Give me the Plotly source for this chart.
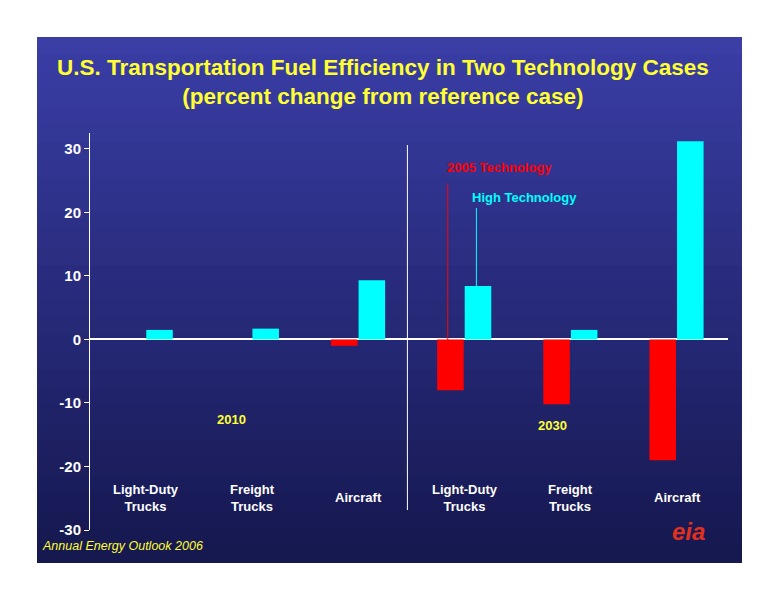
import plotly.graph_objects as go

categories = ["Light-Duty<br>Trucks", "Freight<br>Trucks", "Aircraft",
              "Light-Duty<br>Trucks", "Freight<br>Trucks", "Aircraft"]
tech2005 = [0, 0, -1.0, -8.0, -10.2, -19.0]
high_tech = [1.5, 1.7, 9.3, 8.4, 1.5, 31.2]
yticks = [-30, -20, -10, 0, 10, 20, 30]
yticklabels = ["-30", "-20", "-10", "0", "10", "20", "30"]

O = 8  # page body margin
W, H = 776 - 2 * O, 600 - 2 * O
L, R, T, B = 90 - O, 776 - 728 - O, 133 - O, 600 - 530 - O
pw, ph = W - L - R, H - T - B
def px(x): return (x - O - L) / pw
def py(y): return (H - B - (y - O)) / ph

xs = list(range(len(categories)))
fig = go.Figure()
fig.add_trace(go.Bar(x=[x - 0.135 for x in xs], y=tech2005, width=0.25,
                     marker=dict(color="#ff0000", line_width=0), name="2005 Technology"))
fig.add_trace(go.Bar(x=[x + 0.125 for x in xs], y=high_tech, width=0.25,
                     marker=dict(color="#00ffff", line_width=0), name="High Technology"))

shapes = []
n = 30
top = (58, 62, 165); bot = (22, 24, 80)
for i in range(n):
    f = i / (n - 1)
    c = tuple(int(top[k] + (bot[k] - top[k]) * f) for k in range(3))
    y0 = 37 + (563 - 37) * i / n
    y1 = 37 + (563 - 37) * (i + 1) / n + 1
    shapes.append(dict(type="rect", xref="paper", yref="paper", layer="below",
                       x0=px(37), x1=px(742), y0=py(min(y1, 563)), y1=py(y0),
                       fillcolor="rgb(%d,%d,%d)" % c, line_width=0))
shapes.append(dict(type="line", xref="x", yref="paper", x0=2.46, x1=2.46,
                   y0=py(510), y1=py(145), line=dict(color="white", width=1)))
shapes.append(dict(type="line", xref="x", yref="y", x0=3 - 0.16, x1=3 - 0.16,
                   y0=-0.5, y1=24.5, line=dict(color="#ff0000", width=1)))
shapes.append(dict(type="line", xref="x", yref="y", x0=3 + 0.11, x1=3 + 0.11,
                   y0=8.4, y1=20.7, line=dict(color="#00ffff", width=1)))

ann = [
    dict(x=px(55), y=py(53), xref="paper", yref="paper", showarrow=False, xanchor="left",
         align="center",
         text="<b>U.S. Transportation Fuel Efficiency in Two Technology Cases<br>(percent change from reference case)</b>",
         font=dict(size=22.5, color="#ffff33", family="Liberation Sans, Arial")),
    dict(x=3.33, y=27, xref="x", yref="y", text="<b>2005 Technology</b>", showarrow=False,
         font=dict(size=13, color="#ff0000")),
    dict(x=3.56, y=22.3, xref="x", yref="y", text="<b>High Technology</b>", showarrow=False,
         font=dict(size=13, color="#00ffff")),
    dict(x=0.8, y=-12.6, xref="x", yref="y", text="<b>2010</b>", showarrow=False,
         font=dict(size=13, color="#ffff33")),
    dict(x=3.83, y=-13.6, xref="x", yref="y", text="<b>2030</b>", showarrow=False,
         font=dict(size=13, color="#ffff33")),
    dict(x=px(40), y=py(555), xref="paper", yref="paper", text="<i>Annual Energy Outlook 2006</i>",
         showarrow=False, xanchor="left", font=dict(size=12.5, color="#ffff33")),
    dict(x=px(707), y=py(547), xref="paper", yref="paper", text="<b><i>eia</i></b>",
         showarrow=False, font=dict(size=24, color="#e03020", family="Liberation Sans")),
]
for i, c in enumerate(categories):
    ann.append(dict(x=i, y=-24.9, xref="x", yref="y", text="<b>%s</b>" % c, showarrow=False,
                    font=dict(size=13, color="white")))

fig.update_layout(
    width=W, height=H, margin=dict(l=L, r=R, t=T, b=B),
    paper_bgcolor="white", plot_bgcolor="rgba(0,0,0,0)",
    showlegend=False, barmode="overlay", shapes=shapes, annotations=ann,
    font=dict(family="Liberation Sans, Arial", color="white"),
    xaxis=dict(range=[-0.53, 5.48], showticklabels=False, showgrid=False,
               zeroline=False, showline=False),
    yaxis=dict(range=[-30, 32.5], tickvals=yticks,
               ticktext=["<b>%s</b>" % t for t in yticklabels], showgrid=False,
               zeroline=True, zerolinecolor="white", zerolinewidth=1.5,
               showline=True, linecolor="white", ticks="outside", tickcolor="white",
               ticklen=5, tickfont=dict(size=15, color="white")),
)
fig.write_html("out.html")
